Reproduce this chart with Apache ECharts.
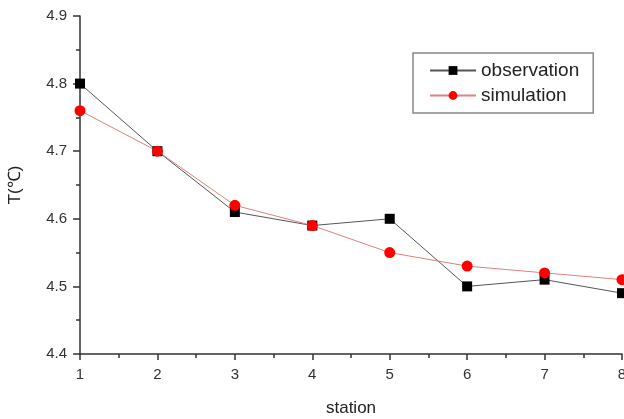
<!DOCTYPE html>
<html><head><meta charset="utf-8">
<script src="https://cdn.jsdelivr.net/npm/echarts@6/dist/echarts.min.js"></script>
<style>html,body{margin:0;padding:0;background:#fff}#c{width:624px;height:419px}</style>
</head><body><div id="c"></div>
<script>
var stations = [1, 2, 3, 4, 5, 6, 7, 8];
var observation = [4.80, 4.70, 4.61, 4.59, 4.60, 4.50, 4.51, 4.49];
var simulation = [4.76, 4.70, 4.62, 4.59, 4.55, 4.53, 4.52, 4.51];
var yTicks = [4.4, 4.5, 4.6, 4.7, 4.8, 4.9];

var chart = echarts.init(document.getElementById('c'));
var axisCol = '#333';
chart.setOption({
  animation: false,
  grid: {left: 80, right: 2, top: 16, bottom: 65, outerBoundsMode: 'none', containLabel: false},
  legend: {
    orient: 'vertical', left: 413, top: 53,
    borderColor: '#888', borderWidth: 1.5, padding: [8, 14, 8, 16],
    itemWidth: 46, itemHeight: 11, itemGap: 6,
    textStyle: {fontFamily: 'Liberation Sans', fontSize: 19, color: '#222'},
    data: ['observation', 'simulation']
  },
  xAxis: {
    type: 'value', min: 1, max: 8, interval: 1,
    name: 'station', nameLocation: 'middle', nameGap: 46,
    nameTextStyle: {fontFamily: 'Liberation Sans', fontSize: 17, color: '#222'},
    axisLine: {show: true, lineStyle: {color: axisCol, width: 1.5}},
    axisTick: {show: true, inside: false, length: 6, lineStyle: {color: axisCol, width: 1.5}},
    minorTick: {show: true, splitNumber: 2, length: 4, lineStyle: {color: axisCol, width: 1.5}},
    splitLine: {show: false},
    axisLabel: {fontFamily: 'Liberation Sans', fontSize: 15, color: '#333', margin: 13}
  },
  yAxis: {
    type: 'value', min: 4.4, max: 4.9, interval: 0.1,
    name: 'T(℃)', nameLocation: 'middle', nameGap: 56, nameRotate: 90,
    nameTextStyle: {fontFamily: 'Liberation Sans', fontSize: 17, color: '#222'},
    axisLine: {show: true, lineStyle: {color: axisCol, width: 1.5}},
    axisTick: {show: true, inside: false, length: 7, lineStyle: {color: axisCol, width: 1.5}},
    minorTick: {show: true, splitNumber: 2, length: 4, lineStyle: {color: axisCol, width: 1.5}},
    splitLine: {show: false},
    axisLabel: {fontFamily: 'Liberation Sans', fontSize: 15, color: '#333', margin: 13,
      formatter: function (v) { return v.toFixed(1); }}
  },
  series: [
    {
      name: 'observation', type: 'line', clip: false,
      data: stations.map(function (s, i) { return [s, observation[i]]; }),
      symbol: 'rect', symbolSize: 10,
      lineStyle: {color: '#555', width: 1},
      itemStyle: {color: '#000'}
    },
    {
      name: 'simulation', type: 'line', clip: false,
      data: stations.map(function (s, i) { return [s, simulation[i]]; }),
      symbol: 'circle', symbolSize: 11,
      lineStyle: {color: '#e08080', width: 1},
      itemStyle: {color: '#f00'}
    }
  ]
});
</script></body></html>
